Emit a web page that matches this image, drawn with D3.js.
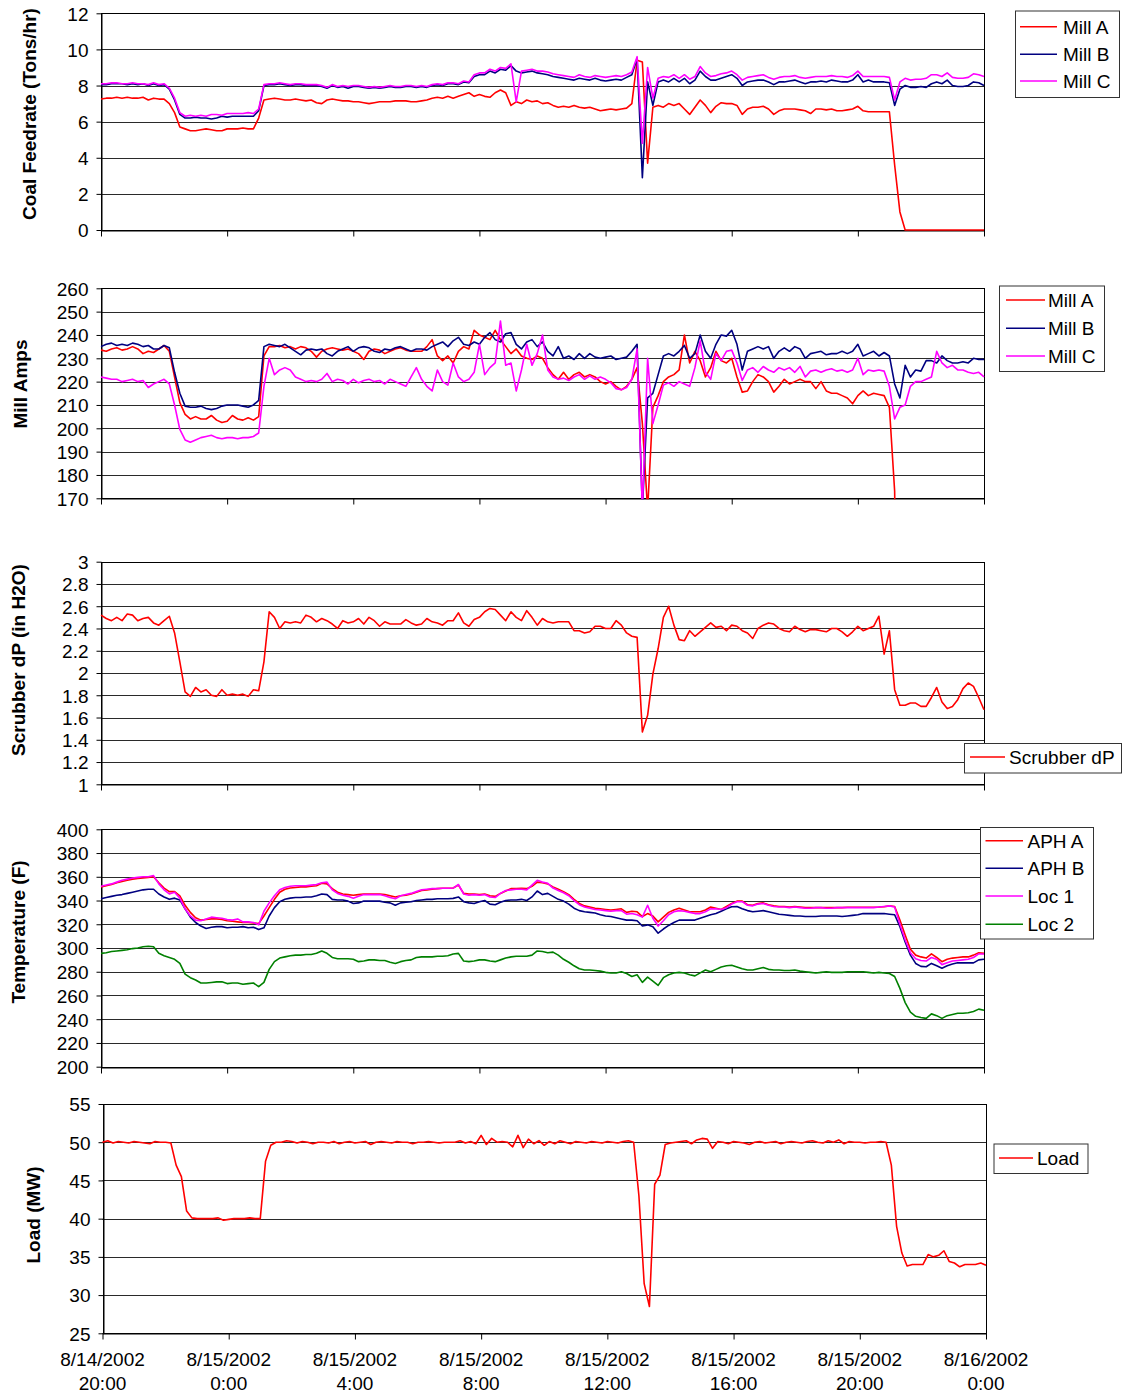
<!DOCTYPE html>
<html><head><meta charset="utf-8">
<script src="https://cdn.jsdelivr.net/npm/d3@7"></script>
<style>
body{margin:0;background:#fff}
text{font-family:"Liberation Sans",Arial,sans-serif;fill:#000}
</style></head>
<body><svg id="chart" width="1123" height="1397"></svg>
<script>
// ---------- DATA ----------
const startTime = "8/14/2002 20:00";
const stepMinutes = 10;
const xTickLabels = ["8/14/2002 20:00","8/15/2002 0:00","8/15/2002 4:00","8/15/2002 8:00","8/15/2002 12:00","8/15/2002 16:00","8/15/2002 20:00","8/16/2002 0:00"];

const millNames = ["Mill A","Mill B","Mill C"];
const tempNames = ["APH A","APH B","Loc 1","Loc 2"];

const coalTicks = [0,2,4,6,8,10,12];
const ampsTicks = [170,180,190,200,210,220,230,240,250,260];
const scrubTicks = [1,1.2,1.4,1.6,1.8,2,2.2,2.4,2.6,2.8,3];
const tempTicks = [200,220,240,260,280,300,320,340,360,380,400];
const loadTicks = [25,30,35,40,45,50,55];

const coalMillA = [
7.25,7.3,7.3,7.35,7.3,7.35,7.3,7.3,7.35,7.2,7.3,7.25,
7.25,7.0,6.5,5.7,5.6,5.5,5.5,5.55,5.6,5.55,5.5,5.5,
5.6,5.6,5.6,5.65,5.6,5.6,6.2,7.2,7.25,7.3,7.25,7.2,
7.2,7.25,7.2,7.15,7.2,7.05,7.0,7.2,7.25,7.2,7.15,7.15,
7.1,7.1,7.05,7.0,7.05,7.1,7.1,7.1,7.15,7.15,7.15,7.1,
7.1,7.15,7.2,7.3,7.35,7.3,7.4,7.3,7.4,7.5,7.6,7.4,
7.5,7.4,7.35,7.6,7.75,7.6,6.9,7.1,7.0,7.2,7.1,7.15,
7.0,7.05,6.9,6.8,6.85,6.8,6.9,6.8,6.75,6.8,6.7,6.6,
6.65,6.7,6.65,6.7,6.75,7.0,9.4,9.3,3.7,6.8,6.9,6.8,
7.0,6.9,7.0,6.7,6.4,6.8,7.2,6.9,6.5,6.85,7.05,7.0,
7.0,6.9,6.4,6.7,6.8,6.8,6.85,6.7,6.4,6.6,6.7,6.7,
6.7,6.65,6.6,6.45,6.7,6.7,6.65,6.7,6.6,6.6,6.65,6.7,
6.85,6.6,6.55,6.55,6.55,6.55,6.55,3.6,1.0,0,0,0,
0,0,0,0,0,0,0,0,0,0,0,0,
0];
const coalMillB = [
8.05,8.05,8.1,8.1,8.1,8.05,8.1,8.05,8.1,8.0,8.1,8.0,
8.05,7.8,7.2,6.4,6.2,6.2,6.25,6.2,6.2,6.15,6.2,6.3,
6.25,6.3,6.3,6.3,6.3,6.3,6.6,8.0,8.05,8.05,8.1,8.05,
8.0,8.05,8.05,8.0,8.0,8.0,7.95,7.85,8.0,7.9,7.95,7.85,
7.95,7.95,7.9,7.85,7.9,7.85,7.9,7.95,7.9,7.9,7.95,7.95,
7.9,7.95,7.9,8.0,8.05,8.0,8.1,8.1,8.05,8.2,8.15,8.5,
8.6,8.6,8.8,8.7,8.9,8.85,9.1,8.8,8.7,8.75,8.8,8.7,
8.65,8.6,8.5,8.45,8.4,8.35,8.3,8.4,8.35,8.3,8.4,8.3,
8.25,8.3,8.35,8.3,8.45,8.6,9.5,2.9,8.2,6.9,8.2,8.3,
8.2,8.4,8.2,8.4,8.1,8.3,8.8,8.5,8.3,8.3,8.4,8.5,
8.6,8.4,8.0,8.2,8.25,8.3,8.3,8.2,8.05,8.2,8.2,8.25,
8.3,8.2,8.1,8.2,8.2,8.25,8.2,8.3,8.25,8.2,8.2,8.3,
8.6,8.2,8.3,8.2,8.2,8.2,8.15,6.9,7.8,8.0,7.9,7.9,
7.95,7.9,8.1,8.2,8.1,8.3,8.0,7.95,7.95,8.0,8.2,8.15,
8.0];
const coalMillC = [
8.1,8.1,8.15,8.15,8.1,8.1,8.15,8.1,8.1,8.05,8.15,8.05,
8.1,7.85,7.3,6.5,6.3,6.35,6.3,6.35,6.3,6.4,6.4,6.35,
6.45,6.45,6.45,6.45,6.5,6.45,6.7,8.05,8.1,8.1,8.15,8.1,
8.05,8.1,8.1,8.05,8.05,8.05,8.0,7.9,8.05,7.95,8.0,7.95,
8.0,8.0,7.95,7.9,7.95,7.9,7.95,8.0,7.95,7.95,8.0,8.0,
7.95,8.0,7.95,8.05,8.1,8.05,8.15,8.15,8.1,8.25,8.2,8.6,
8.7,8.7,8.9,8.8,9.0,8.95,9.2,7.1,8.8,8.85,8.9,8.8,
8.8,8.75,8.65,8.6,8.55,8.5,8.45,8.6,8.5,8.45,8.55,8.5,
8.45,8.5,8.55,8.5,8.6,8.75,9.6,4.8,9.0,7.3,8.4,8.5,
8.45,8.6,8.4,8.6,8.35,8.5,9.05,8.7,8.5,8.55,8.65,8.7,
8.8,8.6,8.3,8.45,8.5,8.55,8.6,8.45,8.35,8.45,8.5,8.5,
8.55,8.45,8.4,8.45,8.5,8.5,8.5,8.55,8.5,8.5,8.45,8.55,
8.8,8.5,8.5,8.5,8.5,8.5,8.45,7.2,8.2,8.4,8.3,8.35,
8.35,8.4,8.6,8.6,8.5,8.7,8.45,8.4,8.4,8.45,8.65,8.6,
8.5];

const ampsMillA = [
233.5,233,234,234.5,233.5,234,235,234,232,233,232.5,234,
235.5,233,222,211,206,204,205,204,204,205.5,203.5,202.5,
203,205.5,204,203.5,204.5,203.5,205,231,235,235,235.5,234.5,
235,234,235,234.5,233,230.5,233,234,234.5,234,233.5,234,
233,232,229.5,233,234,233.5,232,233,234,234.5,233.5,233,
233,233,235,238,231,229,231,228,233,235,234,242,
240,239,238,242,238,235,232,234,231,230,229.5,231,
230,226,223,221,224,221,223,224,222,223,222,220,
219,220,218,216.5,218,221,226,202,165,209,214,220,
222,223,225,240,228,233,229,222,226,233,229,228,
230,222,215.5,216,220,223,222,220,215.5,218,221,219,
220,221,220,220,217,220,216,215,215,214,213,210.5,
214,216,214,215,214.5,214,209,173,0,0,0,0,
0,0,0,0,0,0,0,0,0,0,0,0,
0];
const ampsMillB = [
235,236,236.5,235.5,236,235.5,236.5,236,235,235.5,234,234,
235.5,234.5,224,215,209.5,209,209,209.5,208.5,208,208.5,209.5,
210,210,210,209.5,209,210,212,235,236,235.5,235,236,
234.5,233,231.5,233.5,234,233.5,234,232,231,233,234,235,
233,234.5,235,234.5,233,232.5,234,233.5,234.5,235,234,233,
234,234,233.5,235,236,237,235,237.5,239,236,235.5,237,
236,239,241,238,237,240.5,241,236,234,237,238,235,
237,233,231,235,230,231,229.5,232,230,232,230.5,230,
230.5,231,229.5,230,230.5,233,236,165,213,215,223,231,
232,231,233,235.5,230,232,240,233,230,236,240,239.5,
242,236,225,233,234,235,234,235,230,233,234.5,233,
235,234,230,232,232.5,233,231.5,232,232,233,232,233,
236,231,232,233,231,232.5,231,219,213,227,222,225,
224.5,229,229,228,231,229,228,228,228.5,228,230,229.5,
229.5];
const ampsMillC = [
222,221.5,221,221,220,220.5,221,220,220.5,217.5,219,220,
221,219,210,199.5,195,194,195,196,196.5,197,196,195.5,
196,196,195.5,196,196,196.5,198,218,230,223,225,226,
225,222,221,220,220.5,220,221,223.5,220,221,220.5,219,
221,219.5,220.5,221,220,220.5,219,221,220,219,218,222,
226,221,218,216,225,220,218.5,228,222,220,221,224,
236,223,226,228,246,227,228,216,225,236,227,232,
240,225,222,221,221.5,220.5,222,223,221,222.5,221,222,
221,219.5,217,216.5,217.5,221,234,165,230,202,210,218.5,
219.5,218,220,219,218,226,237.5,224,221,232,229,233,
233.5,228,220.5,225,226,224,226.5,225,224,226,225,226,
224,226.5,222,224.5,225,224,225,225.5,224.5,225,224,225,
230,223,225,224.5,225,224.5,218,204,209,210,218,220,
220,221,222,233,228,226,227,225,225,224,223.5,224,
222];

const scrubberDP = [
2.52,2.49,2.47,2.5,2.47,2.53,2.52,2.47,2.49,2.5,2.45,2.43,
2.47,2.51,2.36,2.1,1.83,1.79,1.87,1.83,1.85,1.8,1.79,1.85,
1.8,1.81,1.8,1.81,1.79,1.85,1.84,2.1,2.55,2.5,2.4,2.46,
2.45,2.46,2.45,2.52,2.5,2.46,2.49,2.47,2.44,2.4,2.47,2.45,
2.46,2.49,2.44,2.5,2.47,2.42,2.46,2.44,2.44,2.44,2.48,2.45,
2.43,2.44,2.49,2.46,2.45,2.43,2.47,2.47,2.54,2.45,2.42,2.48,
2.5,2.55,2.58,2.57,2.52,2.47,2.55,2.5,2.47,2.56,2.5,2.43,
2.49,2.46,2.45,2.46,2.46,2.46,2.38,2.38,2.36,2.37,2.42,2.42,
2.4,2.4,2.47,2.43,2.36,2.33,2.32,1.47,1.62,1.99,2.22,2.5,
2.6,2.43,2.3,2.29,2.38,2.33,2.37,2.41,2.45,2.41,2.42,2.38,
2.43,2.42,2.38,2.36,2.31,2.4,2.43,2.45,2.44,2.4,2.38,2.37,
2.42,2.39,2.37,2.39,2.39,2.38,2.37,2.4,2.4,2.37,2.33,2.37,
2.42,2.38,2.4,2.42,2.51,2.17,2.38,1.85,1.71,1.71,1.73,1.73,
1.7,1.7,1.78,1.87,1.74,1.68,1.7,1.76,1.86,1.91,1.88,1.78,
1.67];

const tempAphA = [
351.5,352.5,353.5,355,356,357,358,358.5,359,359.5,360,355,
350.5,347.5,347.5,344,336,330,325.5,323.5,324,324.5,324.5,324,
323,322.5,322,321.5,321.5,321,320.5,327,334,341,347,349.5,
350.5,351,351.5,351.5,352,352.5,354.5,354,350,347,345.5,345,
344.5,345,345.5,345.5,345.5,345.5,345,344,343,344,344.5,345.5,
347,348.5,349,349.5,350,350.3,350.3,350.5,353,346,345.5,345.5,
345,345.5,344,343.5,346,348,350,350,350.3,350,352,355.5,
355,354,351.5,349.5,347.5,345,341,337.5,335.5,334.5,333.5,333,
332.5,332,332.5,333,330,331,330.5,326.5,329,327,322,326,
330,332,333.5,332,330.5,330.5,330.5,332,334.5,333.5,332.5,335,
337.5,339.5,339.5,336.5,336,337.5,338,336.5,335.5,335,335,334.5,
335,334.5,334,334,334,334,334,334,334,334,334.3,334.3,
334.3,334.3,334.3,334.3,334.5,334.8,335.5,335,323.5,311,299,294,
292.5,291.5,295,292,288.5,290.5,291.5,292,292.5,292.5,294,296,
295.5];
const tempAphB = [
341.5,342.5,343.5,344.5,345,346,347,348,349,349.5,349.5,345.5,
343,341,342,340.5,333,326,321.5,318.5,316.5,317.5,318,318,
317,317.5,317.5,318,317,317.5,315.5,317,327,334,339,341,
342,342.5,342.5,343,343,344,345.5,345,341,340.5,340.5,339.5,
337.5,338,339.5,339.5,339.5,339.5,338.5,338,336,338,338.5,339,
340,340.5,341,341,341.5,341.5,341.5,341.8,343,339,338,337.5,
339,340,337,336.5,338.5,340,340.5,340.5,341,340,343,348,
345,346,343.5,341,339.5,337,333.5,331.5,330.5,330,329.5,328,
327,326.5,325.5,324.5,323.5,323.5,323,318.5,319.5,318,312.5,316,
319,321.5,323.5,323.5,323.5,323.5,325,326.5,328,329,331,333,
334.8,335,333,331.5,330.5,331,331.5,330.5,329.5,328.5,328,327.5,
327,327,326.5,326.5,326.5,327,327,327,327,326.5,327,327.5,
328,329,329,329,329,329,328.5,328,318,305,294,287,
284.5,284.2,287,285,283,285,286.5,287.5,287.5,287.5,287.5,290,
290.5];
const tempLoc1 = [
352,353,354,355.5,357,358,359,359.5,360,360,361,354,
349,345.5,347,342,333,327,323.5,323,324.5,326,325.5,325,
324,323.5,324.5,322,322,321.5,319.5,331,338,344,349,351,
352,352.5,352.5,352.5,353,353.5,355,355.5,349,346,344.5,343.5,
342,343.5,345,345,345,345,344,342.5,341.5,344,345,346,
347.5,349,349.5,350,350,350.3,350.3,350.5,353.5,345.5,344.5,345,
344.5,345,343,342.5,346,348.5,349,349.5,349.5,349,353,357,
355.5,354.5,350.5,348.5,346.5,344,340,336.5,334.5,333.5,332.5,332,
331.5,331,331.5,331.5,328.5,329,328,326,336,325,318.5,323,
328,330.5,331.5,331,330,329,329,330.5,333,333,332.5,334,
337,339,339,336,335.5,337,337.5,336,335,334.5,334.5,334,
334.5,334,333.5,333.5,334,334,333.5,333.5,334,334,334,334,
334,334,334,334,334.5,335,335.5,334.5,320,307,296,291,
289.5,289,292,290.5,286,287.5,289,289.5,290,290.5,292,295,
295];
const tempLoc2 = [
295.5,296,297,297.5,298,298.5,299.5,300,301,301.5,301,295.5,
293.5,292,290.5,287,278,275,273,270.5,270.5,271,271.5,271.5,
270,270.5,270.5,269.5,270,270.5,267.5,271,282,288.5,291.5,292.5,
293.5,294,294,294.5,294.5,295.5,297.5,295.5,292,291,291,291,
290.5,288.5,289,290,290,289.5,289.5,288,287,288.5,289.5,290,
292,292.5,292.5,292.5,293,293,293.5,295,295.5,289,288.5,289,
290,290,289,288.5,290,291.5,292.5,293,293,293,294,297.5,
297,296,296.5,294,290.5,288,285,282.5,281.5,281.5,281,280.5,
279.5,279,279,280,278.5,276,277.5,271,275.5,272,268.5,275,
277.5,279,279.5,279,277.5,276.5,279,281.5,280,282,284,285,
285.5,284,282.5,281.5,281.5,282.5,283.5,282,281.5,281.5,281,281,
281.5,280.5,280,279.5,279,279.5,280,279.5,279.5,279.5,280,280,
280,280,279.5,279,279.5,279,278.5,276,266,254,246,242.5,
241.5,240.7,244.5,243,240.7,243,244,245,245,245.5,246.5,248.5,
247.5];

const loadMW = [
50,50.2,49.9,50.1,50,49.9,50.1,50,49.9,49.8,50.1,50,
50,49.9,47,45.5,41,40.1,40,40,40,40,40.1,39.8,
39.9,40,40,40,40.1,40,40,47.5,49.6,50,50,50.2,
50.1,49.9,50.1,50,49.8,50,50,49.9,50.1,49.8,50,50.1,
49.9,50,50.1,49.7,50,50.1,50,49.9,50.1,50,50,49.8,
50,50,50.1,50,49.9,50,50,50,50.2,49.9,50.1,49.8,
50.9,49.7,50.5,50,50.1,50,49.4,50.9,49.3,50.4,49.8,50.2,
49.6,50.1,49.8,50.2,50,49.8,50.1,50,49.9,50.1,50,49.9,
50.1,50,49.9,50.1,50.2,50,43,31.5,28.5,44.5,45.7,49.7,
49.9,50,50.1,50.2,49.8,50.3,50.5,50.4,49.2,50.1,50,49.8,
50.1,50,49.9,49.7,50,50.1,49.9,50,50.1,49.8,50,50.1,
50,49.9,50.1,50.2,50,49.9,50.2,50,50.3,49.8,50.1,50,
50,49.9,50,50,50.1,50,47,39,35.5,33.8,34,34,
34,35.3,35,35.2,35.8,34.4,34.2,33.7,34,34,34,34.2,
33.9];

// ---------- LAYOUT / STYLE ----------
const RED = "#ff0000", NAVY = "#000080", MAGENTA = "#ff00ff", GREEN = "#008000";
const FONT_SIZE = 19;

function parseStamp(s) {
  const [date, time] = s.split(" ");
  const [m, d, y] = date.split("/").map(Number);
  const [hh, mm] = time.split(":").map(Number);
  return new Date(y, m - 1, d, hh, mm);
}
const t0 = parseStamp(startTime);
const times = coalMillA.map((_, i) => new Date(t0.getTime() + i * stepMinutes * 60000));
const xTickDates = xTickLabels.map(parseStamp);
const xDomain = [xTickDates[0], xTickDates[xTickDates.length - 1]];

const panels = [
  { series:[coalMillA, coalMillB, coalMillC], names:millNames, colors:[RED,NAVY,MAGENTA],
    domain:[0,12], ticks:coalTicks, top:13.3, bottom:230, left:101, right:984,
    title:"Coal Feedrate (Tons/hr)", titleX:35.5, titleY:114,
    legend:{x:1015,y:10.5,w:104,h:86.5, rows:[26.7,54.3,81], lx1:1020, lx2:1057, tx:1063} },
  { series:[ampsMillA, ampsMillB, ampsMillC], names:millNames, colors:[RED,NAVY,MAGENTA],
    domain:[170,260], ticks:ampsTicks, top:288.3, bottom:498.3, left:101, right:984,
    title:"Mill Amps", titleX:26.5, titleY:384,
    legend:{x:999,y:285.5,w:105,h:85.5, rows:[300,328.3,356], lx1:1006, lx2:1045, tx:1048} },
  { series:[scrubberDP], names:["Scrubber dP"], colors:[RED],
    domain:[1,3], ticks:scrubTicks, top:561.7, bottom:784.3, left:101, right:984,
    title:"Scrubber dP (in H2O)", titleX:24.5, titleY:660,
    legend:{x:964,y:743,w:157,h:29.5, rows:[757], lx1:970, lx2:1005, tx:1009} },
  { series:[tempAphA, tempAphB, tempLoc1, tempLoc2], names:tempNames, colors:[RED,NAVY,MAGENTA,GREEN],
    domain:[200,400], ticks:tempTicks, top:829.3, bottom:1066.7, left:101, right:984,
    title:"Temperature (F)", titleX:24.5, titleY:932,
    legend:{x:980,y:827,w:113,h:111.5, rows:[840.7,868.3,896,924.3], lx1:985.5, lx2:1023, tx:1027.5} },
  { series:[loadMW], names:["Load"], colors:[RED],
    domain:[25,55], ticks:loadTicks, top:1104, bottom:1333.3, left:102.5, right:986,
    title:"Load (MW)", titleX:40, titleY:1215, xLabels:true,
    legend:{x:993.5,y:1143.5,w:94,h:29.5, rows:[1158], lx1:999, lx2:1033, tx:1037} }
];

const svg = d3.select("#chart");
svg.append("rect").attr("width",1123).attr("height",1397).attr("fill","#fff");

const fmtTick = d => String(+d.toFixed(1));

panels.forEach((p, pi) => {
  const x = d3.scaleTime().domain(xDomain).range([p.left, p.right]);
  const y = d3.scaleLinear().domain(p.domain).range([p.bottom, p.top]);
  const g = svg.append("g");

  // gridlines
  g.append("g").selectAll("line").data(p.ticks).join("line")
    .attr("x1", p.left).attr("x2", p.right)
    .attr("y1", d => Math.round(y(d)) + 0.5).attr("y2", d => Math.round(y(d)) + 0.5)
    .attr("stroke", "#2a2a2a").attr("stroke-width", 1);

  // plot border
  g.append("rect")
    .attr("x", Math.round(p.left) + 0.5).attr("y", Math.round(p.top) + 0.5)
    .attr("width", Math.round(p.right) - Math.round(p.left))
    .attr("height", Math.round(p.bottom) - Math.round(p.top))
    .attr("fill", "none").attr("stroke", "#000").attr("stroke-width", 1);

  // y axis
  const ya = g.append("g").attr("transform", `translate(${Math.round(p.left) + 0.5},0)`)
    .call(d3.axisLeft(y).tickValues(p.ticks).tickSize(5).tickSizeOuter(0).tickPadding(8).tickFormat(fmtTick));
  ya.selectAll("text").attr("font-size", FONT_SIZE).attr("dy", "0.36em")
    .attr("font-family", '"Liberation Sans",Arial,sans-serif');
  ya.selectAll("line").attr("stroke", "#000");
  ya.select(".domain").attr("stroke", "#000");

  // x axis
  const xa = g.append("g").attr("transform", `translate(0,${Math.round(p.bottom) + 0.5})`)
    .call(d3.axisBottom(x).tickValues(xTickDates).tickSize(6).tickSizeOuter(0).tickFormat(""));
  xa.selectAll("line").attr("stroke", "#000");
  xa.select(".domain").attr("stroke", "#000");

  if (p.xLabels) {
    const lab = g.append("g").selectAll("text").data(xTickDates).join("text")
      .attr("text-anchor", "middle").attr("font-size", FONT_SIZE);
    lab.append("tspan").attr("x", d => x(d)).attr("y", p.bottom + 33)
      .text(d => `${d.getMonth() + 1}/${d.getDate()}/${d.getFullYear()}`);
    lab.append("tspan").attr("x", d => x(d)).attr("y", p.bottom + 57)
      .text(d => `${d.getHours()}:${String(d.getMinutes()).padStart(2, "0")}`);
  }

  // clip + lines
  const cid = "clip" + pi;
  svg.append("clipPath").attr("id", cid).append("rect")
    .attr("x", p.left - 1).attr("y", p.top - 2)
    .attr("width", p.right - p.left + 2).attr("height", p.bottom - p.top + 3);
  const line = d3.line().x((d, i) => x(times[i])).y(d => y(d));
  const lg = g.append("g").attr("clip-path", `url(#${cid})`);
  p.series.forEach((s, si) => {
    lg.append("path").datum(s).attr("d", line)
      .attr("fill", "none").attr("stroke", p.colors[si])
      .attr("stroke-width", 1.6).attr("stroke-linejoin", "round");
  });

  // title
  g.append("text")
    .attr("transform", `translate(${p.titleX},${p.titleY}) rotate(-90)`)
    .attr("text-anchor", "middle").attr("font-size", FONT_SIZE).attr("font-weight", "bold")
    .text(p.title);

  // legend
  const L = p.legend;
  const leg = g.append("g");
  leg.append("rect").attr("x", L.x + 0.5).attr("y", L.y + 0.5).attr("width", L.w).attr("height", L.h)
    .attr("fill", "#fff").attr("stroke", "#333").attr("stroke-width", 1);
  p.names.forEach((n, si) => {
    leg.append("line").attr("x1", L.lx1).attr("x2", L.lx2)
      .attr("y1", L.rows[si]).attr("y2", L.rows[si])
      .attr("stroke", p.colors[si]).attr("stroke-width", 1.6);
    leg.append("text").attr("x", L.tx).attr("y", L.rows[si] + 6.8)
      .attr("font-size", FONT_SIZE).text(n);
  });
});
</script>
</body></html>
